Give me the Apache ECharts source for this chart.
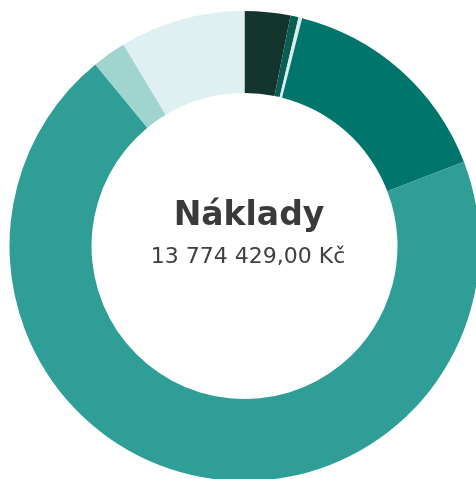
<!DOCTYPE html>
<html>
<head>
<meta charset="utf-8">
<script src="https://cdn.jsdelivr.net/npm/echarts@6/dist/echarts.min.js"></script>
<style>
  html, body { margin: 0; padding: 0; background: #fff; }
  #chart { width: 476px; height: 479px; }
</style>
</head>
<body>
<div id="chart"></div>
<script>
// položky nákladů (Kč), po směru hodinových ručiček od 12 h
const values = [432380, 76525, 34436, 2096800, 9626900, 321400, 1185988];
const colors = ['#13352d', '#0a5f55', '#d6eeee', '#00756b', '#2e9e96', '#a0d4cf', '#dff0f2'];
const title = 'Náklady';

const total = values.reduce((a, b) => a + b, 0);

function formatCzk(v) {
  const parts = v.toFixed(2).split('.');
  const int = parts[0].replace(/\B(?=(\d{3})+(?!\d))/g, ' ');
  return int + ',' + parts[1] + ' Kč';
}

const chart = echarts.init(document.getElementById('chart'));

chart.setOption({
  animation: false,
  graphic: [
    {
      type: 'text',
      x: 249,
      y: 216,
      style: {
        text: title,
        fill: '#3a3a3a',
        font: 'bold 33px "DejaVu Sans", sans-serif',
        align: 'center',
        verticalAlign: 'middle'
      }
    },
    {
      type: 'text',
      x: 248,
      y: 257,
      style: {
        text: formatCzk(total),
        fill: '#404040',
        font: '22px "DejaVu Sans", sans-serif',
        align: 'center',
        verticalAlign: 'middle'
      }
    }
  ],
  series: [
    {
      type: 'pie',
      center: [244.5, 246],
      radius: [153, 235],
      startAngle: 90,
      clockwise: true,
      label: { show: false },
      labelLine: { show: false },
      emphasis: { disabled: true },
      itemStyle: { borderWidth: 0 },
      data: values.map((v, i) => ({ value: v, itemStyle: { color: colors[i] } }))
    }
  ]
});
</script>
</body>
</html>
